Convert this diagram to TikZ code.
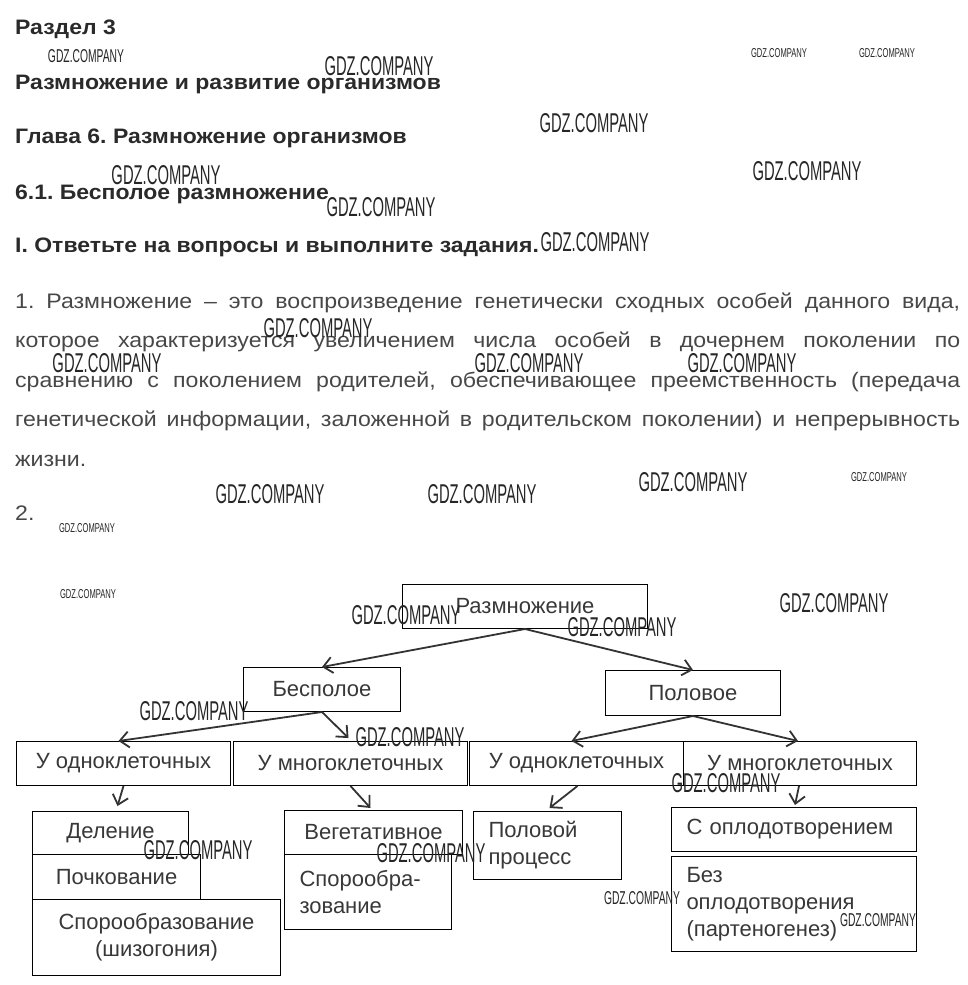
\documentclass[tikz,border=0pt]{standalone}
\usepackage{fontspec}
\setmainfont{Liberation Sans}
\newfontfamily\wmfont{Liberation Sans}
\newfontfamily\widefont[FakeStretch=1.1]{Liberation Sans}
\usetikzlibrary{arrows.meta}
\definecolor{headc}{HTML}{2A2A2A}
\definecolor{parac}{HTML}{474747}
\definecolor{diagc}{HTML}{383838}
\definecolor{arrc}{HTML}{333333}
\newcommand\wmL{\resizebox{109pt}{19pt}{\wmfont GDZ.COMPANY}}
\newcommand\wmM{\resizebox{76pt}{13pt}{\wmfont GDZ.COMPANY}}
\newcommand\wmS{\resizebox{56pt}{9pt}{\wmfont GDZ.COMPANY}}
\frenchspacing
\begin{document}
\begin{tikzpicture}[x=1pt,y=-1pt,
  head/.style={inner sep=0pt, anchor=base west, text=headc, font=\widefont\bfseries\fontsize{20.9}{24}\selectfont},
  para/.style={inner sep=0pt, anchor=base west, text=parac, font=\widefont\fontsize{21}{24}\selectfont},
  box/.style={draw=black, line width=1pt, inner sep=0pt, anchor=north west, text=diagc,
              font=\fontsize{22}{27}\selectfont, align=center},
  lbox/.style={draw=black, line width=1pt, inner xsep=15pt, inner ysep=0pt, anchor=north west, text=diagc,
              font=\fontsize{22}{27}\selectfont, align=left},
  arr/.style={draw=arrc, line width=1.8pt, -{Straight Barb[length=9pt,width=16pt]}},
  wm/.style={inner sep=0pt, anchor=center, text=black!85}
]
\fill[white] (0,0) rectangle (968,985);
\useasboundingbox (0,0) rectangle (968,985);

% headings
\node[head] (h1) at (15,34) {Раздел 3};
\node[head] (h2) at (15,89) {Размножение и развитие организмов};
\node[head] (h3) at (15,143) {Глава 6. Размножение организмов};
\node[head] (h4) at (15,199) {6.1. Бесполое размножение};
\node[head] (h5) at (15,252) {I. Ответьте на вопросы и выполните задания.};

% paragraph
\node[para] (p1) at (15,308) {\makebox[945pt][s]{1. Размножение – это воспроизведение генетически сходных особей данного вида,}};
\node[para] (p2) at (15,347) {\makebox[945pt][s]{которое характеризуется увеличением числа особей в дочернем поколении по}};
\node[para] (p3) at (15,387) {\makebox[945pt][s]{сравнению с поколением родителей, обеспечивающее преемственность (передача}};
\node[para] (p4) at (15,426) {\makebox[945pt][s]{генетической информации, заложенной в родительском поколении) и непрерывность}};
\node[para] (p5) at (15,466) {жизни.};
\node[para] (p6) at (15,520) {2.};

% diagram boxes
\node[box, minimum width=245pt, minimum height=44pt] (razm) at (402,584) {Размножение};
\node[box, minimum width=157pt, minimum height=44pt] (besp) at (243,667) {Бесполое};
\node[box, minimum width=175pt, minimum height=45pt] (polo) at (605,670) {Половое};
\node[box, minimum width=214pt, minimum height=44pt] (odn1) at (16,741) {У одноклеточных};
\node[box, minimum width=234pt, minimum height=44pt] (mn1) at (233,741) {У многоклеточных};
\node[box, minimum width=214pt, minimum height=44pt] (odn2) at (469,741) {У одноклеточных};
\node[box, minimum width=233pt, minimum height=44pt] (mn2) at (683,741) {У многоклеточных};

\node[box, minimum width=156pt, minimum height=43pt] (delen) at (32,811) {Деление};
\node[box, minimum width=168pt, minimum height=45pt] (poch) at (32,854) {Почкование};
\node[box, minimum width=248pt, minimum height=76pt] (spor) at (32,899) {Спорообразование\\(шизогония)};

\node[box, minimum width=178pt, minimum height=44pt] (veg) at (284,810) {Вегетативное};
\node[lbox, text width=137pt, minimum height=75pt] (spor2) at (284,854) {Спорообра-\\зование};

\node[lbox, text width=118pt, minimum height=68pt] (polproc) at (473,811) {Половой\\процесс};

\node[lbox, text width=215pt, minimum height=44pt] (sopl) at (671,807) {С оплодотворением};
\node[lbox, text width=215pt, minimum height=95pt] (bez) at (671,856) {Без\\оплодотворения\\(партеногенез)};

% connectors
\draw[arr] (razm.south) -- (besp.north);
\draw[arr] (razm.south) -- (polo.north);
\draw[arr] (besp.south) -- ([xshift=-5pt]odn1.north);
\draw[arr] (besp.south) -- ([xshift=-2pt,yshift=3pt]mn1.north);
\draw[arr] (polo.south) -- ([xshift=-5pt]odn2.north);
\draw[arr] (polo.south) -- ([xshift=-2pt]mn2.north);
\draw[arr] (odn1.south) -- ([xshift=7pt,yshift=5pt]delen.north);
\draw[arr] (mn1.south) -- ([xshift=-3pt,yshift=2pt]veg.north);
\draw[arr] ([xshift=1pt]odn2.south) -- ([xshift=2pt,yshift=3pt]polproc.north);
\draw[arr] ([xshift=-1pt]mn2.south) -- ([xshift=1pt,yshift=2pt]sopl.north);

% watermarks
\node[wm] (w1) at (86,56) {\wmM};
\node[wm] (w2) at (379,66) {\wmL};
\node[wm] (w3) at (779,53) {\wmS};
\node[wm] (w4) at (887,53) {\wmS};
\node[wm] (w5) at (594,123) {\wmL};
\node[wm] (w6) at (807,171) {\wmL};
\node[wm] (w7) at (166,175) {\wmL};
\node[wm] (w8) at (381,207) {\wmL};
\node[wm] (w9) at (595,242) {\wmL};
\node[wm] (w10) at (318,328) {\wmL};
\node[wm] (w11) at (107,363) {\wmL};
\node[wm] (w12) at (529,363) {\wmL};
\node[wm] (w13) at (742,363) {\wmL};
\node[wm] (w14) at (693,482) {\wmL};
\node[wm] (w15) at (879,477) {\wmS};
\node[wm] (w16) at (270,494) {\wmL};
\node[wm] (w17) at (482,494) {\wmL};
\node[wm] (w18) at (87,528) {\wmS};
\node[wm] (w19) at (88,594) {\wmS};
\node[wm] (w20) at (406,615) {\wmL};
\node[wm] (w21) at (622,627) {\wmL};
\node[wm] (w22) at (834,603) {\wmL};
\node[wm] (w23) at (194,711) {\wmL};
\node[wm] (w24) at (410,737) {\wmL};
\node[wm] (w25) at (726,783) {\wmL};
\node[wm] (w26) at (198,850) {\wmL};
\node[wm] (w27) at (431,853) {\wmL};
\node[wm] (w28) at (642,898) {\wmM};
\node[wm] (w29) at (878,920) {\wmM};
\end{tikzpicture}
\end{document}
